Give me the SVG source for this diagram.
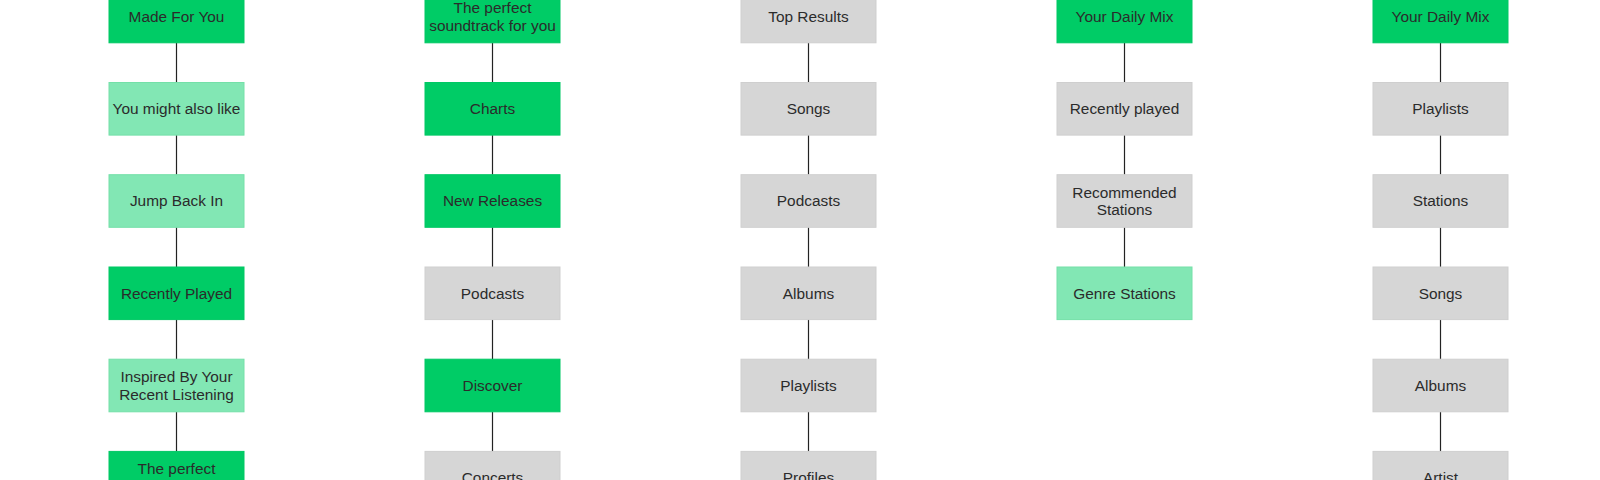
<svg xmlns="http://www.w3.org/2000/svg" width="1600" height="480" viewBox="0 0 1600 480">
<style>
.n rect{stroke-width:1}
.b rect{fill:#00CC66;stroke:#00C864}
.l rect{fill:#82E7B4;stroke:#74E0A8}
.g rect{fill:#D6D6D6;stroke:#CFCFCF}
text{font-family:"Liberation Sans",Arial,sans-serif;font-size:15.4px;fill:#2B2B2B;text-anchor:middle}
.c line{stroke:#222222;stroke-width:1.2}
</style>
<rect x="0" y="0" width="1600" height="480" fill="#FFFFFF"/>
<g class="c" id="connectors">
<line x1="176.5" y1="42.8" x2="176.5" y2="82.5"/>
<line x1="176.5" y1="135.1" x2="176.5" y2="174.7"/>
<line x1="176.5" y1="227.3" x2="176.5" y2="267"/>
<line x1="176.5" y1="319.6" x2="176.5" y2="359.2"/>
<line x1="176.5" y1="411.8" x2="176.5" y2="451.4"/>
<line x1="492.5" y1="42.8" x2="492.5" y2="82.5"/>
<line x1="492.5" y1="135.1" x2="492.5" y2="174.7"/>
<line x1="492.5" y1="227.3" x2="492.5" y2="267"/>
<line x1="492.5" y1="319.6" x2="492.5" y2="359.2"/>
<line x1="492.5" y1="411.8" x2="492.5" y2="451.4"/>
<line x1="808.5" y1="42.8" x2="808.5" y2="82.5"/>
<line x1="808.5" y1="135.1" x2="808.5" y2="174.7"/>
<line x1="808.5" y1="227.3" x2="808.5" y2="267"/>
<line x1="808.5" y1="319.6" x2="808.5" y2="359.2"/>
<line x1="808.5" y1="411.8" x2="808.5" y2="451.4"/>
<line x1="1124.5" y1="42.8" x2="1124.5" y2="82.5"/>
<line x1="1124.5" y1="135.1" x2="1124.5" y2="174.7"/>
<line x1="1124.5" y1="227.3" x2="1124.5" y2="267"/>
<line x1="1440.5" y1="42.8" x2="1440.5" y2="82.5"/>
<line x1="1440.5" y1="135.1" x2="1440.5" y2="174.7"/>
<line x1="1440.5" y1="227.3" x2="1440.5" y2="267"/>
<line x1="1440.5" y1="319.6" x2="1440.5" y2="359.2"/>
<line x1="1440.5" y1="411.8" x2="1440.5" y2="451.4"/>
</g>
<!-- Column 1 -->
<g id="c1n1" class="n b"><rect x="109" y="-9.8" width="135" height="52.6"/><text x="176.5" y="21.9">Made For You</text></g>
<g id="c1n2" class="n l"><rect x="109" y="82.5" width="135" height="52.6"/><text x="176.5" y="114.2">You might also like</text></g>
<g id="c1n3" class="n l"><rect x="109" y="174.7" width="135" height="52.6"/><text x="176.5" y="206.4">Jump Back In</text></g>
<g id="c1n4" class="n b"><rect x="109" y="267" width="135" height="52.6"/><text x="176.5" y="298.7">Recently Played</text></g>
<g id="c1n5" class="n l"><rect x="109" y="359.2" width="135" height="52.6"/><text x="176.5" y="382.2">Inspired By Your</text><text x="176.5" y="399.7">Recent Listening</text></g>
<g id="c1n6" class="n b"><rect x="109" y="451.4" width="135" height="52.6"/><text x="176.5" y="474.4">The perfect</text><text x="176.5" y="491.9">soundtrack for you</text></g>
<!-- Column 2 -->
<g id="c2n1" class="n b"><rect x="425" y="-9.8" width="135" height="52.6"/><text x="492.5" y="13.1">The perfect</text><text x="492.5" y="30.6">soundtrack for you</text></g>
<g id="c2n2" class="n b"><rect x="425" y="82.5" width="135" height="52.6"/><text x="492.5" y="114.2">Charts</text></g>
<g id="c2n3" class="n b"><rect x="425" y="174.7" width="135" height="52.6"/><text x="492.5" y="206.4">New Releases</text></g>
<g id="c2n4" class="n g"><rect x="425" y="267" width="135" height="52.6"/><text x="492.5" y="298.7">Podcasts</text></g>
<g id="c2n5" class="n b"><rect x="425" y="359.2" width="135" height="52.6"/><text x="492.5" y="390.9">Discover</text></g>
<g id="c2n6" class="n g"><rect x="425" y="451.4" width="135" height="52.6"/><text x="492.5" y="483.1">Concerts</text></g>
<!-- Column 3 -->
<g id="c3n1" class="n g"><rect x="741" y="-9.8" width="135" height="52.6"/><text x="808.5" y="21.9">Top Results</text></g>
<g id="c3n2" class="n g"><rect x="741" y="82.5" width="135" height="52.6"/><text x="808.5" y="114.2">Songs</text></g>
<g id="c3n3" class="n g"><rect x="741" y="174.7" width="135" height="52.6"/><text x="808.5" y="206.4">Podcasts</text></g>
<g id="c3n4" class="n g"><rect x="741" y="267" width="135" height="52.6"/><text x="808.5" y="298.7">Albums</text></g>
<g id="c3n5" class="n g"><rect x="741" y="359.2" width="135" height="52.6"/><text x="808.5" y="390.9">Playlists</text></g>
<g id="c3n6" class="n g"><rect x="741" y="451.4" width="135" height="52.6"/><text x="808.5" y="483.1">Profiles</text></g>
<!-- Column 4 -->
<g id="c4n1" class="n b"><rect x="1057" y="-9.8" width="135" height="52.6"/><text x="1124.5" y="21.9">Your Daily Mix</text></g>
<g id="c4n2" class="n g"><rect x="1057" y="82.5" width="135" height="52.6"/><text x="1124.5" y="114.2">Recently played</text></g>
<g id="c4n3" class="n g"><rect x="1057" y="174.7" width="135" height="52.6"/><text x="1124.5" y="197.7">Recommended</text><text x="1124.5" y="215.2">Stations</text></g>
<g id="c4n4" class="n l"><rect x="1057" y="267" width="135" height="52.6"/><text x="1124.5" y="298.7">Genre Stations</text></g>
<!-- Column 5 -->
<g id="c5n1" class="n b"><rect x="1373" y="-9.8" width="135" height="52.6"/><text x="1440.5" y="21.9">Your Daily Mix</text></g>
<g id="c5n2" class="n g"><rect x="1373" y="82.5" width="135" height="52.6"/><text x="1440.5" y="114.2">Playlists</text></g>
<g id="c5n3" class="n g"><rect x="1373" y="174.7" width="135" height="52.6"/><text x="1440.5" y="206.4">Stations</text></g>
<g id="c5n4" class="n g"><rect x="1373" y="267" width="135" height="52.6"/><text x="1440.5" y="298.7">Songs</text></g>
<g id="c5n5" class="n g"><rect x="1373" y="359.2" width="135" height="52.6"/><text x="1440.5" y="390.9">Albums</text></g>
<g id="c5n6" class="n g"><rect x="1373" y="451.4" width="135" height="52.6"/><text x="1440.5" y="483.1">Artist</text></g>
</svg>
